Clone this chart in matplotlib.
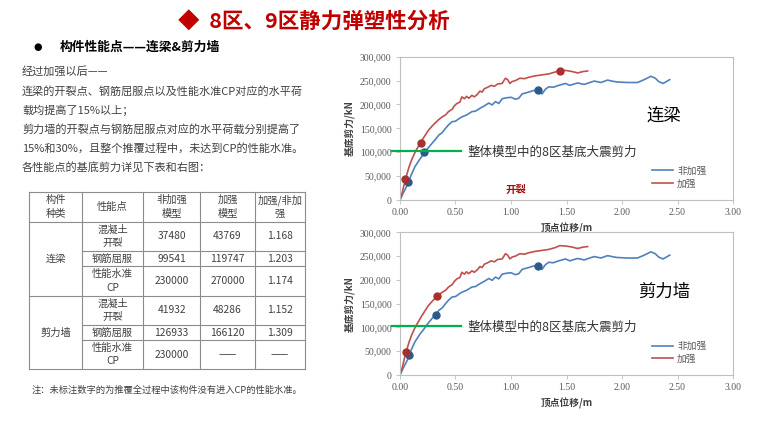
import matplotlib
matplotlib.use('Agg')
import matplotlib.pyplot as plt

plt.rcParams['font.family'] = ['Noto Sans CJK SC', 'DejaVu Sans']

# pushover curves (顶点位移/m, 基底剪力/kN), same curves in both panels
red_x = [0.00, 0.02, 0.045, 0.08, 0.105, 0.14, 0.19, 0.22, 0.256, 0.29, 0.32, 0.347, 0.38, 0.41,
         0.437, 0.47, 0.49, 0.512, 0.54, 0.557, 0.58, 0.60, 0.62, 0.648, 0.67, 0.70, 0.72, 0.74,
         0.76, 0.79, 0.82, 0.85, 0.88, 0.92, 0.95, 0.97, 0.99, 1.01, 1.04, 1.08, 1.12, 1.16, 1.22,
         1.28, 1.34, 1.40, 1.44, 1.50, 1.55, 1.60, 1.65, 1.69]
red_y = [0, 15000, 40000, 68000, 84000, 102000, 122000, 133000, 146000, 155000, 162000, 168000,
         174000, 178000, 185000, 190000, 197000, 202000, 205000, 216000, 212000, 217000, 213000,
         219000, 216000, 222000, 228000, 226000, 233000, 236000, 240000, 238000, 243000, 244000,
         255000, 252000, 244000, 248000, 250000, 255000, 254000, 257000, 260000, 262000, 264000,
         268000, 272000, 271000, 269000, 266000, 269000, 270000]
blue_x = [0.00, 0.03, 0.07, 0.10, 0.135, 0.18, 0.22, 0.25, 0.286, 0.32, 0.35, 0.38, 0.41, 0.44,
          0.47, 0.50, 0.53, 0.557, 0.60, 0.648, 0.68, 0.72, 0.76, 0.80, 0.83, 0.86, 0.89, 0.92,
          0.96, 1.00, 1.04, 1.07, 1.10, 1.16, 1.20, 1.245, 1.28, 1.31, 1.34, 1.38, 1.43, 1.49,
          1.53, 1.57, 1.60, 1.66, 1.71, 1.75, 1.81, 1.87, 1.93, 1.96, 2.05, 2.14, 2.20, 2.26,
          2.30, 2.33, 2.37, 2.43]
blue_y = [0, 15000, 33000, 52000, 70000, 86000, 98000, 108000, 118000, 127000, 136000, 141000,
          150000, 158000, 164000, 165000, 170000, 174000, 178000, 185000, 186000, 192000, 197000,
          203000, 199000, 206000, 202000, 212000, 214000, 215000, 211000, 213000, 222000, 226000,
          229000, 230000, 222000, 232000, 237000, 236000, 240000, 244000, 240000, 243000, 245000,
          242000, 246000, 249000, 246000, 251000, 248000, 247000, 246000, 246000, 252000, 259000,
          255000, 248000, 244000, 252000]

# performance points
lb_blue_x = [0.07, 0.22, 1.245]
lb_blue_y = [37480, 99541, 230000]
lb_red_x = [0.045, 0.19, 1.44]
lb_red_y = [43769, 119747, 270000]
sw_blue_x = [0.08, 0.32, 1.245]
sw_blue_y = [41932, 126933, 230000]
sw_red_x = [0.055, 0.33]
sw_red_y = [48286, 166120]
quake_shear = 103000

# table
header = ['构件\n种类', '性能点', '非加强\n模型', '加强\n模型', '加强/非加\n强']
groups = ['连梁', '剪力墙']
points = ['混凝土\n开裂', '钢筋屈服', '性能水准\nCP']
unreinforced = [['37480', '99541', '230000'], ['41932', '126933', '230000']]
reinforced = [['43769', '119747', '270000'], ['48286', '166120', '——']]
ratio = [['1.168', '1.203', '1.174'], ['1.152', '1.309', '——']]

body = ['经过加强以后——',
        '连梁的开裂点、钢筋屈服点以及性能水准CP对应的水平荷',
        '载均提高了15%以上；',
        '剪力墙的开裂点与钢筋屈服点对应的水平荷载分别提高了',
        '15%和30%，且整个推覆过程中，未达到CP的性能水准。',
        '各性能点的基底剪力详见下表和右图：']

RED = '#c0504d'
BLUE = '#4f81bd'
TXT = '#404040'

fig = plt.figure(figsize=(7.6, 4.28), dpi=100)
fig.patch.set_facecolor('white')

# slide layer in pixel coordinates
bg = fig.add_axes([0, 0, 1, 1])
bg.set_xlim(0, 760)
bg.set_ylim(428, 0)
bg.axis('off')

bg.text(178, 22.5, '◆  8区、9区静力弹塑性分析', fontsize=15.5, fontweight='bold', color='#c00000',
        va='center', ha='left')
bg.text(33, 47, '●', fontsize=7, color='black', va='center', family=['DejaVu Sans'])
bg.text(60, 47, '构件性能点——连梁&剪力墙', fontsize=9.2, fontweight='bold', color='black', va='center')

line_y = [71, 91, 110, 129, 148.5, 168]
for s, y in zip(body, line_y):
    bg.text(22, y, s, fontsize=8, color=TXT, va='center')

col_x = [29.3, 81.7, 143.3, 200, 255, 305]
row_y = [191.7, 221.7, 251, 266, 295.7, 325, 340, 369.3]
lc = '#8c8c8c'
for y in [191.7, 221.7, 295.7, 369.3]:
    bg.plot([col_x[0], col_x[-1]], [y, y], color=lc, lw=0.8)
for y in [251, 266, 325, 340]:
    bg.plot([col_x[1], col_x[-1]], [y, y], color=lc, lw=0.8)
for x in col_x:
    bg.plot([x, x], [row_y[0], row_y[-1]], color=lc, lw=0.8)

ts = 7.4
for i, h in enumerate(header):
    bg.text((col_x[i] + col_x[i + 1]) / 2, (row_y[0] + row_y[1]) / 2, h, fontsize=ts, color=TXT,
            ha='center', va='center', linespacing=1.45)
for g in range(2):
    ys = row_y[1 + 3 * g:5 + 3 * g]
    bg.text((col_x[0] + col_x[1]) / 2, (ys[0] + ys[-1]) / 2, groups[g], fontsize=ts, color=TXT,
            ha='center', va='center')
    for r in range(3):
        yc = (ys[r] + ys[r + 1]) / 2
        cells = [points[r], unreinforced[g][r], reinforced[g][r], ratio[g][r]]
        for c, s in enumerate(cells):
            bg.text((col_x[c + 1] + col_x[c + 2]) / 2, yc, s, fontsize=ts, color=TXT,
                    ha='center', va='center', linespacing=1.45)

bg.text(32, 390, '注：未标注数字的为推覆全过程中该构件没有进入CP的性能水准。', fontsize=6.7,
        color=TXT, va='center')


def draw_panel(rect, bx, by, rx, ry, name, crack_label):
    ax = fig.add_axes(rect)
    ax.plot(blue_x, blue_y, color=BLUE, lw=1.2, label='非加强')
    ax.plot(red_x, red_y, color=RED, lw=1.2, label='加强')
    ax.plot(bx, by, 'o', color='#2e5a88', ms=5, zorder=4)
    ax.plot(rx, ry, 'o', color='#a8302e', ms=5, zorder=4)
    ax.plot([-0.07, 0.55], [quake_shear, quake_shear], color='#00b050', lw=1.6, clip_on=False, zorder=5)
    ax.text(0.61, 100000, '整体模型中的8区基底大震剪力', fontsize=9, color='#333333', va='center')
    ax.text(2.38, 174000, name, fontsize=12.5, color='black', ha='center', va='center')
    if crack_label:
        ax.text(1.04, 21000, '开裂', fontsize=7.5, color='#a01010', fontweight='bold',
                ha='center', va='center')
    ax.set_xlim(0, 3)
    ax.set_ylim(0, 300000)
    ax.set_xticks([0, 0.5, 1, 1.5, 2, 2.5, 3])
    ax.set_xticklabels(['%.2f' % v for v in [0, 0.5, 1, 1.5, 2, 2.5, 3]])
    ax.set_yticks(range(0, 300001, 50000))
    ax.set_yticklabels(['0' if v == 0 else format(v, ',') for v in range(0, 300001, 50000)])
    for lab in ax.get_xticklabels() + ax.get_yticklabels():
        lab.set_family(['Liberation Serif', 'DejaVu Serif'])
        lab.set_fontsize(7)
        lab.set_color('#595959')
    for sp in ax.spines.values():
        sp.set_color('#bfbfbf')
        sp.set_linewidth(0.8)
    ax.tick_params(length=3, width=0.6, color='#bfbfbf', pad=3)
    ax.set_xlabel('顶点位移/m', fontsize=7, fontweight='bold', color='#404040', labelpad=4)
    ax.set_ylabel('基底剪力/kN', fontsize=7, fontweight='bold', color='#404040', labelpad=4)
    leg = ax.legend(loc='upper left', bbox_to_anchor=(0.73, 0.30), frameon=False, fontsize=7,
                    handlelength=2.2, handletextpad=0.4, labelspacing=0.3)
    for t in leg.get_texts():
        t.set_color('#595959')
    return ax


draw_panel([0.5263, 0.5327, 0.4382, 0.3348], lb_blue_x, lb_blue_y, lb_red_x, lb_red_y, '连梁', True)
draw_panel([0.5263, 0.1238, 0.4382, 0.3334], sw_blue_x, sw_blue_y, sw_red_x, sw_red_y, '剪力墙', False)

fig.savefig('out.png', dpi=100, facecolor='white')
